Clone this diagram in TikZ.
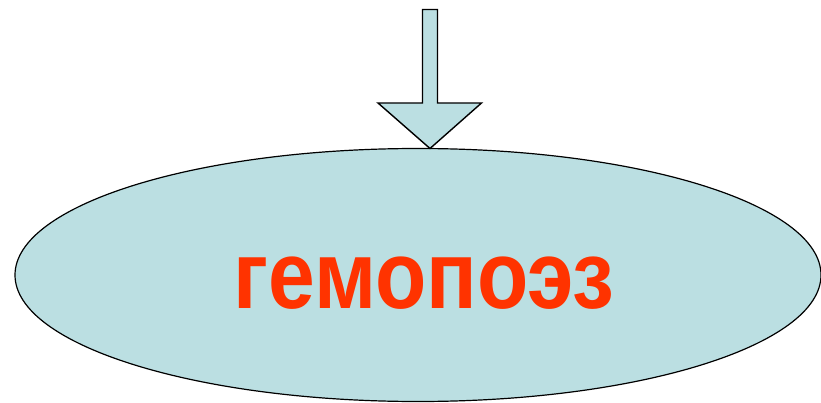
\documentclass[tikz,border=0pt]{standalone}
\usepackage{fontspec}
\setmainfont{Liberation Sans}
\definecolor{fillblue}{HTML}{BBDFE2}
\definecolor{labelred}{HTML}{FF3300}
\begin{document}
\begin{tikzpicture}[x=1pt,y=-1pt,
  shapeline/.style={draw=black,line width=1.4pt,fill=fillblue,line join=miter},
  lbl/.style={text=labelred,font=\fontsize{96}{100}\selectfont\bfseries}]
\useasboundingbox (0,0) rectangle (821,403);
\draw[shapeline,line width=1.2pt] (418,275) ellipse [x radius=403, y radius=126.5];
\node[lbl,inner sep=0pt,anchor=base] (label) at (424,308) {\scalebox{0.875}[1]{гемопоэз}};
\coordinate (tip) at (430,148.5);
\draw[shapeline] (422.5,9.5) -- (437.5,9.5) -- (437.5,103) -- (481.5,103) -- (tip) -- (378,103) -- (422.5,103) -- cycle;
\end{tikzpicture}
\end{document}
